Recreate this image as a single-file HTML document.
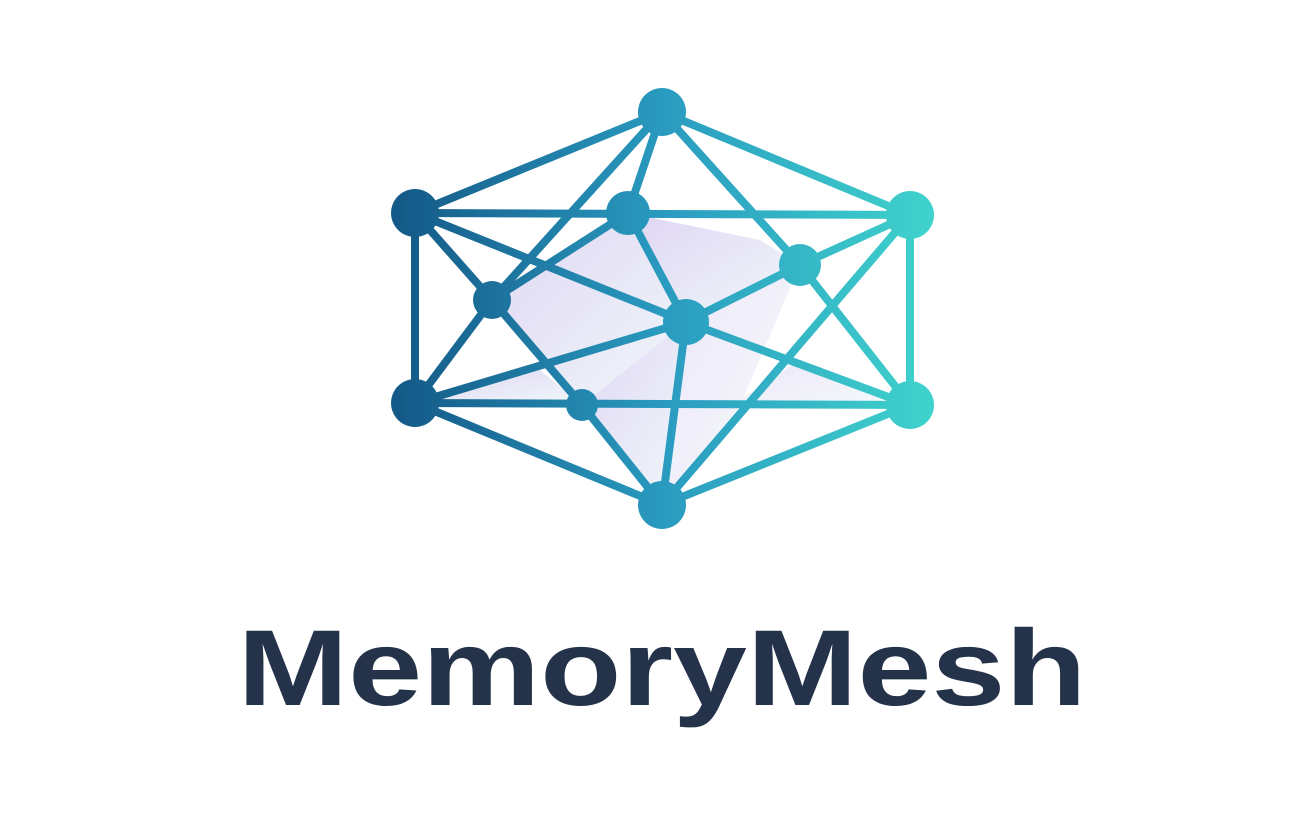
<!DOCTYPE html>
<html><head><meta charset="utf-8"><style>
html,body{margin:0;padding:0;background:#fff;}
body{width:1290px;height:838px;position:relative;overflow:hidden;}
svg{position:absolute;left:0;top:0;}
.t{position:absolute;left:0;width:1290px;top:603px;text-align:center;font-family:"Liberation Sans",sans-serif;font-weight:bold;font-size:108px;color:#25334a;line-height:130px;transform:translateX(17px) scaleX(1.23);transform-origin:645px 0;}
</style></head><body>
<svg width="1290" height="838" viewBox="0 0 1290 838">
<defs>
<linearGradient id="g" x1="400" y1="0" x2="930" y2="0" gradientUnits="userSpaceOnUse">
<stop offset="0" stop-color="#145a88"/><stop offset="0.5" stop-color="#2a9bc0"/><stop offset="1" stop-color="#3fd2cc"/>
</linearGradient>
<linearGradient id="p" x1="0" y1="0" x2="1" y2="1">
<stop offset="0" stop-color="#c9b8ec" stop-opacity="0.6"/><stop offset="1" stop-color="#d8e6f0" stop-opacity="0.4"/>
</linearGradient>
</defs>
<g fill="url(#p)">
<polygon points="492,300 628,213 686,322 582,405"/>
<polygon points="686,322 628,213 760,240 800,265"/>
<polygon points="582,405 686,322 662,505"/>
<polygon points="415,403 582,405 540,370"/>
<polygon points="686,322 800,265 740,405 662,505" opacity="0.6"/>
<polygon points="740,400 910,405 800,360" opacity="0.6"/>
</g>
<g stroke="url(#g)" stroke-width="8" stroke-linecap="round" fill="none">
<line x1="662" y1="112" x2="415" y2="213"/>
<line x1="662" y1="112" x2="910" y2="215"/>
<line x1="662" y1="112" x2="628" y2="213"/>
<line x1="662" y1="112" x2="492" y2="300"/>
<line x1="662" y1="112" x2="800" y2="265"/>
<line x1="415" y1="213" x2="910" y2="215"/>
<line x1="415" y1="213" x2="415" y2="403"/>
<line x1="910" y1="215" x2="910" y2="405"/>
<line x1="415" y1="403" x2="910" y2="405"/>
<line x1="415" y1="403" x2="662" y2="505"/>
<line x1="910" y1="405" x2="662" y2="505"/>
<line x1="415" y1="213" x2="492" y2="300"/>
<line x1="415" y1="213" x2="686" y2="322"/>
<line x1="628" y1="213" x2="492" y2="300"/>
<line x1="628" y1="213" x2="686" y2="322"/>
<line x1="492" y1="300" x2="415" y2="403"/>
<line x1="492" y1="300" x2="582" y2="405"/>
<line x1="582" y1="405" x2="662" y2="505"/>
<line x1="686" y1="322" x2="415" y2="403"/>
<line x1="686" y1="322" x2="800" y2="265"/>
<line x1="686" y1="322" x2="910" y2="405"/>
<line x1="686" y1="322" x2="662" y2="505"/>
<line x1="800" y1="265" x2="910" y2="215"/>
<line x1="800" y1="265" x2="910" y2="405"/>
<line x1="910" y1="215" x2="662" y2="505"/>
</g>
<g fill="url(#g)">
<circle cx="662" cy="112" r="24"/>
<circle cx="415" cy="213" r="24"/>
<circle cx="910" cy="215" r="24"/>
<circle cx="415" cy="403" r="24"/>
<circle cx="910" cy="405" r="24"/>
<circle cx="662" cy="505" r="24"/>
<circle cx="628" cy="213" r="22"/>
<circle cx="800" cy="265" r="21"/>
<circle cx="492" cy="300" r="19"/>
<circle cx="686" cy="322" r="23"/>
<circle cx="582" cy="405" r="16"/>
</g>
</svg>
<div class="t">MemoryMesh</div>
</body></html>
